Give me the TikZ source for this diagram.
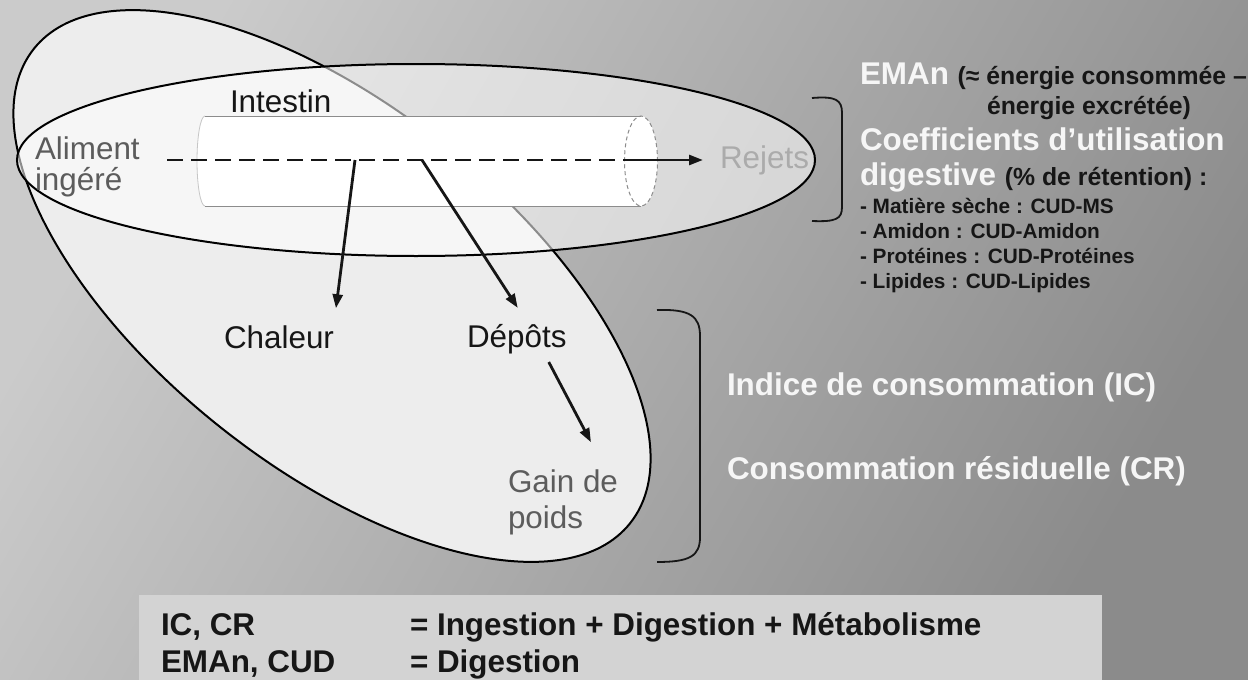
\documentclass[tikz,border=0pt]{standalone}
\usepackage{fontspec}
\setmainfont{Liberation Sans}
\usetikzlibrary{arrows.meta}
\definecolor{bgL}{HTML}{CBCBCB}
\definecolor{bgD}{HTML}{8B8B8B}
\definecolor{blob}{HTML}{EDEDED}
\definecolor{ink}{HTML}{161616}
\definecolor{gtxt}{HTML}{5C5C5C}
\definecolor{wtxt}{HTML}{F6F6F6}
\definecolor{boxc}{HTML}{D3D3D3}
\definecolor{tubeline}{HTML}{8C8C8C}
\definecolor{rejc}{HTML}{ABABAB}
\newcommand\fmain{\fontsize{15.7}{18}\selectfont}
\newcommand\fsub{\fontsize{12.4}{14}\selectfont}
\newcommand\fsmall{\fontsize{10.4}{12}\selectfont}
\begin{document}
\begin{tikzpicture}[x=0.5pt,y=-0.5pt,
  lbl/.style={inner sep=0pt, outer sep=0pt, anchor=base west, font=\fmain},
  wbold/.style={lbl, text=wtxt, font=\fmain\bfseries},
  kbold/.style={lbl, text=ink, font=\fsmall\bfseries},
  flow/.style={line width=1.4pt, draw=ink},
  tip/.style={-{Triangle[length=7pt,width=5pt]}},
  outline/.style={line width=1pt, draw=black},
  brk/.style={line width=0.9pt, draw=ink}]
\useasboundingbox (0,0) rectangle (1248,680);
\shade[top color=bgL, bottom color=bgD, shading angle=60] (0,0) rectangle (1248,680);

% large tilted region
\draw[outline, fill=blob, rotate around={-38.5:(332,286)}] (332,286) ellipse [x radius=190.5pt, y radius=90pt];
% intestine region
\draw[outline, fill=white, fill opacity=0.55] (416,160) ellipse [x radius=199.5pt, y radius=48pt];

% tube
\fill[white] (641,116) -- (205,116) arc[start angle=90, end angle=270, x radius=4pt, y radius=22.5pt]
  -- (641,206) arc[start angle=-90, end angle=90, x radius=8.25pt, y radius=22.5pt] -- cycle;
\draw[tubeline, line width=0.5pt] (205,116) -- (641,116);
\draw[tubeline, line width=0.5pt] (205,206) -- (641,206);
\draw[tubeline, line width=0.5pt, dash pattern=on 2pt off 1.5pt] (641,161) ellipse [x radius=8.25pt, y radius=22.5pt];
\draw[gray!45, line width=0.4pt] (205,116) arc[start angle=90, end angle=270, x radius=4pt, y radius=22.5pt];

% labels in diagram
\node[lbl, text=ink] (int) at (230,112) {Intestin};
\node[lbl, text=gtxt] (ali) at (35,159) {Aliment};
\node[lbl, text=gtxt] (ali2) at (35,190) {ingéré};
\node[lbl, text=rejc] (rej) at (720,168) {Rejets};
\node[lbl, text=ink] (cha) at (224,348) {Chaleur};
\node[lbl, text=ink] (dep) at (467,347) {Dépôts};
\node[lbl, text=gtxt] (gain) at (508,492) {Gain de};
\node[lbl, text=gtxt] (gain2) at (508,528) {poids};

% flow
\coordinate (d0) at (167,160);
\coordinate (b1) at (355,160);
\coordinate (b2) at (422,160);
\coordinate (d1) at (627,160);
\draw[flow, dash pattern=on 8pt off 4pt] (d0) -- (d1);
\draw[flow, tip, shorten >=8.5pt] (d1) -- (d1 -| rej.west);
\draw[flow, tip] (b1) -- ([xshift=1pt, yshift=8.5pt]cha.north east);
\draw[flow, tip] (b2) -- ([xshift=0.5pt, yshift=8pt]dep.north);
\draw[flow, tip] ([xshift=16pt, yshift=-4.25pt]dep.south) -- ([xshift=14pt, yshift=13.5pt]gain.north);

% brackets
\draw[brk] (812,98) .. controls (836,96) and (842,100) .. (842,113) -- (842,207) .. controls (842,219) and (836,222) .. (812,221);
\draw[brk] (657,310) .. controls (690,309) and (700,316) .. (700,336) -- (700,537) .. controls (700,556) and (690,562) .. (657,562);

% right texts
\node[wbold] (ema) at (860,84) {EMAn {\fsub\color{ink}(≈ énergie consommée –}};
\node[lbl, text=ink, font=\fsub\bfseries] (ene) at (987,114) {énergie excrétée)};
\node[wbold] (coe) at (860,150) {Coefficients d’utilisation};
\node[wbold] (dig) at (860,185) {digestive {\fsub\color{ink}(\% de rétention) :}};
\node[kbold] (l1) at (860,213) {- Matière sèche : CUD-MS};
\node[kbold] (l2) at (860,238) {- Amidon : CUD-Amidon};
\node[kbold] (l3) at (860,263) {- Protéines : CUD-Protéines};
\node[kbold] (l4) at (860,288) {- Lipides : CUD-Lipides};
\node[wbold] (ic) at (727,395) {Indice de consommation (IC)};
\node[wbold] (cr) at (727,479) {Consommation résiduelle (CR)};

% bottom box
\fill[boxc] (139,595) rectangle (1102,680);
\node[lbl, text=ink, font=\fmain\bfseries] (fl1) at (161,635) {IC, CR};
\node[lbl, text=ink, font=\fmain\bfseries] (fr1) at (410,635) {= Ingestion + Digestion + Métabolisme};
\node[lbl, text=ink, font=\fmain\bfseries] (fl2) at (161,672) {EMAn, CUD};
\node[lbl, text=ink, font=\fmain\bfseries] (fr2) at (410,672) {= Digestion};
\end{tikzpicture}
\end{document}
